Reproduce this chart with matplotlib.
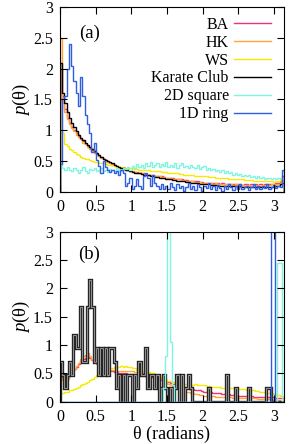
import numpy as np
import matplotlib
matplotlib.use("Agg")
import matplotlib.pyplot as plt

# --- data: histograms p(theta), 100 bins on [0, pi] ---
n_bins = 100
labels = ['BA', 'HK', 'WS', 'Karate Club', '2D square', '1D ring']
colors = ['#f0307a', '#ffa53a', '#f5ea00', '#000000', '#7ff5e0', '#2f5ee0']

# panel (a)
ba_a = [2.00, 1.55, 1.35, 1.20, 1.12, 1.05, 1.00, 0.95, 0.90, 0.86,
        0.82, 0.78, 0.74, 0.71, 0.68, 0.64, 0.61, 0.58, 0.56, 0.53,
        0.51, 0.49, 0.47, 0.45, 0.43, 0.41, 0.40, 0.38, 0.37, 0.36,
        0.35, 0.34, 0.33, 0.32, 0.32, 0.31, 0.30, 0.30, 0.29, 0.28,
        0.28, 0.27, 0.26, 0.26, 0.25, 0.25, 0.24, 0.23, 0.23, 0.22,
        0.22, 0.21, 0.21, 0.20, 0.20, 0.19, 0.19, 0.18, 0.18, 0.17,
        0.17, 0.17, 0.16, 0.16, 0.15, 0.15, 0.15, 0.14, 0.15, 0.14,
        0.14, 0.13, 0.14, 0.13, 0.13, 0.12, 0.13, 0.12, 0.13, 0.12,
        0.12, 0.11, 0.12, 0.12, 0.11, 0.12, 0.11, 0.12, 0.11, 0.12,
        0.11, 0.12, 0.12, 0.13, 0.12, 0.13, 0.14, 0.15, 0.17, 0.25]
hk_a = [2.50, 1.45, 1.30, 1.18, 1.10, 1.03, 0.98, 0.93, 0.89, 0.85,
        0.80, 0.77, 0.73, 0.70, 0.67, 0.63, 0.60, 0.58, 0.55, 0.53,
        0.50, 0.48, 0.46, 0.44, 0.43, 0.41, 0.39, 0.38, 0.37, 0.36,
        0.35, 0.34, 0.33, 0.32, 0.31, 0.31, 0.30, 0.29, 0.29, 0.28,
        0.27, 0.27, 0.26, 0.25, 0.25, 0.24, 0.24, 0.23, 0.22, 0.22,
        0.21, 0.21, 0.20, 0.20, 0.19, 0.19, 0.18, 0.18, 0.17, 0.17,
        0.16, 0.16, 0.16, 0.15, 0.15, 0.14, 0.14, 0.14, 0.13, 0.14,
        0.13, 0.13, 0.12, 0.13, 0.12, 0.12, 0.12, 0.11, 0.12, 0.11,
        0.11, 0.11, 0.10, 0.11, 0.11, 0.10, 0.11, 0.10, 0.11, 0.10,
        0.11, 0.10, 0.11, 0.11, 0.12, 0.11, 0.12, 0.13, 0.15, 0.20]
ws_a = [1.25, 0.96, 0.78, 0.74, 0.70, 0.68, 0.65, 0.62, 0.60, 0.57,
        0.55, 0.54, 0.53, 0.52, 0.50, 0.49, 0.48, 0.47, 0.46, 0.46,
        0.45, 0.44, 0.43, 0.43, 0.42, 0.41, 0.41, 0.40, 0.40, 0.39,
        0.39, 0.38, 0.38, 0.37, 0.37, 0.36, 0.36, 0.35, 0.35, 0.35,
        0.34, 0.34, 0.33, 0.33, 0.33, 0.32, 0.32, 0.32, 0.31, 0.31,
        0.30, 0.30, 0.30, 0.29, 0.29, 0.28, 0.28, 0.28, 0.27, 0.27,
        0.26, 0.26, 0.26, 0.25, 0.25, 0.25, 0.24, 0.24, 0.24, 0.23,
        0.23, 0.23, 0.22, 0.22, 0.22, 0.21, 0.21, 0.21, 0.20, 0.20,
        0.20, 0.20, 0.19, 0.19, 0.19, 0.19, 0.18, 0.18, 0.18, 0.18,
        0.17, 0.17, 0.17, 0.17, 0.17, 0.16, 0.17, 0.18, 0.20, 0.22]
karate_a = [2.10, 1.60, 1.45, 1.30, 1.20, 1.12, 1.05, 0.98, 0.93, 0.88,
            0.84, 0.80, 0.76, 0.73, 0.70, 0.66, 0.63, 0.60, 0.57, 0.54,
            0.52, 0.50, 0.48, 0.46, 0.44, 0.42, 0.41, 0.39, 0.38, 0.36,
            0.35, 0.34, 0.32, 0.31, 0.30, 0.30, 0.29, 0.28, 0.27, 0.27,
            0.26, 0.25, 0.24, 0.24, 0.23, 0.22, 0.22, 0.21, 0.20, 0.20,
            0.19, 0.19, 0.18, 0.18, 0.17, 0.17, 0.16, 0.16, 0.15, 0.15,
            0.14, 0.14, 0.13, 0.13, 0.12, 0.12, 0.12, 0.11, 0.11, 0.11,
            0.10, 0.10, 0.10, 0.10, 0.09, 0.09, 0.09, 0.09, 0.09, 0.08,
            0.09, 0.08, 0.08, 0.08, 0.08, 0.08, 0.08, 0.07, 0.08, 0.07,
            0.08, 0.07, 0.08, 0.08, 0.08, 0.09, 0.09, 0.10, 0.12, 0.15]
square_a = [0.50, 0.38, 0.35, 0.40, 0.36, 0.33, 0.38, 0.35, 0.30, 0.36,
            0.40, 0.34, 0.30, 0.37, 0.35, 0.38, 0.33, 0.36, 0.39, 0.34,
            0.36, 0.32, 0.37, 0.35, 0.33, 0.38, 0.36, 0.34, 0.39, 0.37,
            0.40, 0.36, 0.42, 0.38, 0.45, 0.41, 0.43, 0.39, 0.46, 0.42,
            0.49, 0.40, 0.44, 0.47, 0.41, 0.45, 0.42, 0.48, 0.40, 0.44,
            0.41, 0.47, 0.39, 0.43, 0.46, 0.40, 0.42, 0.38, 0.44, 0.41,
            0.39, 0.43, 0.37, 0.40, 0.42, 0.36, 0.39, 0.35, 0.37, 0.34,
            0.36, 0.32, 0.35, 0.31, 0.33, 0.30, 0.32, 0.28, 0.31, 0.27,
            0.29, 0.26, 0.28, 0.25, 0.27, 0.24, 0.26, 0.23, 0.25, 0.22,
            0.24, 0.21, 0.23, 0.22, 0.20, 0.23, 0.21, 0.22, 0.20, 0.21]
ring_a = [0.45, 1.50, 1.55, 2.00, 2.40, 2.05, 1.80, 1.60, 1.40, 1.87,
          1.55, 1.25, 1.10, 0.95, 0.65, 0.80, 0.52, 0.42, 0.30, 0.50,
          0.40, 0.35, 0.32, 0.36, 0.30, 0.33, 0.28, 0.35, 0.30, 0.10,
          0.15, 0.23, 0.05, 0.10, 0.20, 0.10, 0.05, 0.25, 0.30, 0.22,
          0.10, 0.28, 0.15, 0.10, 0.05, 0.12, 0.05, 0.10, 0.04, 0.15,
          0.08, 0.03, 0.12, 0.06, 0.10, 0.02, 0.08, 0.14, 0.05, 0.10,
          0.03, 0.12, 0.07, 0.02, 0.10, 0.06, 0.15, 0.04, 0.09, 0.03,
          0.11, 0.06, 0.02, 0.10, 0.05, 0.13, 0.07, 0.03, 0.09, 0.05,
          0.12, 0.04, 0.08, 0.10, 0.03, 0.07, 0.12, 0.05, 0.09, 0.04,
          0.10, 0.06, 0.13, 0.05, 0.08, 0.11, 0.06, 0.09, 0.07, 0.35]

# panel (b)
ba_b = [0.50, 0.48, 0.45, 0.47, 0.50, 0.53, 0.58, 0.62, 0.66, 0.72,
        0.75, 0.78, 0.80, 0.78, 0.74, 0.70, 0.68, 0.65, 0.62, 0.60,
        0.58, 0.56, 0.55, 0.54, 0.53, 0.52, 0.51, 0.50, 0.50, 0.50,
        0.49, 0.49, 0.48, 0.48, 0.47, 0.47, 0.46, 0.46, 0.45, 0.45,
        0.44, 0.43, 0.42, 0.41, 0.40, 0.39, 0.38, 0.37, 0.35, 0.33,
        0.32, 0.30, 0.29, 0.28, 0.27, 0.26, 0.25, 0.24, 0.23, 0.22,
        0.21, 0.20, 0.20, 0.19, 0.18, 0.18, 0.17, 0.17, 0.16, 0.16,
        0.15, 0.15, 0.14, 0.14, 0.13, 0.13, 0.12, 0.12, 0.12, 0.11,
        0.11, 0.11, 0.10, 0.10, 0.10, 0.10, 0.09, 0.09, 0.09, 0.09,
        0.08, 0.08, 0.08, 0.08, 0.08, 0.08, 0.07, 0.07, 0.07, 0.07]
hk_b = [0.45, 0.38, 0.32, 0.40, 0.47, 0.52, 0.58, 0.63, 0.68, 0.75,
        0.80, 0.83, 0.86, 0.80, 0.74, 0.70, 0.66, 0.64, 0.62, 0.60,
        0.59, 0.58, 0.57, 0.56, 0.56, 0.55, 0.55, 0.55, 0.54, 0.55,
        0.54, 0.55, 0.54, 0.53, 0.52, 0.52, 0.51, 0.50, 0.50, 0.49,
        0.48, 0.47, 0.46, 0.45, 0.43, 0.41, 0.38, 0.35, 0.32, 0.30,
        0.28, 0.26, 0.24, 0.22, 0.21, 0.20, 0.18, 0.17, 0.16, 0.15,
        0.14, 0.13, 0.12, 0.12, 0.11, 0.11, 0.10, 0.10, 0.10, 0.09,
        0.09, 0.09, 0.09, 0.08, 0.08, 0.08, 0.08, 0.07, 0.07, 0.07,
        0.07, 0.07, 0.06, 0.06, 0.06, 0.06, 0.06, 0.06, 0.05, 0.05,
        0.05, 0.05, 0.05, 0.05, 0.05, 0.04, 0.05, 0.04, 0.00, 0.00]
ws_b = [0.15, 0.16, 0.17, 0.18, 0.20, 0.21, 0.23, 0.25, 0.27, 0.29,
        0.31, 0.33, 0.35, 0.38, 0.41, 0.44, 0.47, 0.50, 0.52, 0.55,
        0.56, 0.58, 0.59, 0.60, 0.61, 0.62, 0.62, 0.63, 0.62, 0.63,
        0.62, 0.61, 0.60, 0.59, 0.57, 0.56, 0.55, 0.54, 0.53, 0.52,
        0.51, 0.50, 0.48, 0.46, 0.44, 0.42, 0.40, 0.38, 0.37, 0.36,
        0.35, 0.34, 0.33, 0.32, 0.32, 0.31, 0.31, 0.30, 0.30, 0.30,
        0.31, 0.30, 0.30, 0.29, 0.29, 0.28, 0.28, 0.27, 0.27, 0.27,
        0.26, 0.26, 0.25, 0.25, 0.25, 0.24, 0.24, 0.24, 0.23, 0.23,
        0.23, 0.22, 0.22, 0.21, 0.21, 0.20, 0.20, 0.19, 0.19, 0.18,
        0.18, 0.17, 0.16, 0.16, 0.15, 0.14, 0.13, 0.12, 0.11, 0.10]
karate_b = [0.71, 0.48, 0.24, 0.48, 0.71, 0.48, 1.18, 0.95, 0.95, 1.68,
            0.71, 0.71, 1.68, 2.15, 1.68, 0.71, 0.95, 0.48, 0.95, 0.48,
            0.95, 0.48, 0.95, 0.95, 0.71, 0.24, 0.48, 0.00, 0.48, 0.00,
            0.48, 0.48, 0.00, 0.48, 0.24, 0.71, 0.48, 0.48, 0.95, 0.24,
            0.48, 0.48, 0.24, 0.48, 0.00, 0.24, 0.48, 0.24, 0.00, 0.24,
            0.00, 0.24, 0.48, 0.00, 0.48, 0.00, 0.24, 0.48, 0.24, 0.00,
            0.00, 0.00, 0.00, 0.00, 0.00, 0.00, 0.24, 0.00, 0.00, 0.00,
            0.00, 0.00, 0.00, 0.00, 0.48, 0.00, 0.00, 0.00, 0.24, 0.00,
            0.00, 0.00, 0.00, 0.00, 0.24, 0.00, 0.00, 0.00, 0.00, 0.00,
            0.00, 0.00, 0.24, 0.24, 0.00, 0.00, 0.00, 0.00, 0.00, 0.00]
square_b = [0.0] * 46 + [0.25, 0.80, 8.00, 1.05, 0.30] + [0.0] * 46 + [2.45, 2.45, 0.0]
ring_b = [0.0] * 94 + [20.0, 20.0] + [0.0] * 4

edges = np.linspace(0, np.pi, n_bins + 1)

plt.rcParams['font.family'] = ['Liberation Serif', 'DejaVu Serif']
plt.rcParams['mathtext.fontset'] = 'custom'
plt.rcParams['mathtext.it'] = 'Liberation Serif:italic'
plt.rcParams['mathtext.rm'] = 'Liberation Serif'
plt.rcParams['font.size'] = 11.5

fig = plt.figure(figsize=(2.91, 4.44), dpi=100)
ax1 = fig.add_axes([0.206, 0.568, 0.770, 0.416])
ax2 = fig.add_axes([0.206, 0.095, 0.770, 0.383])

panel_a = [ba_a, hk_a, ws_a, karate_a, square_a, ring_a]
panel_b = [ba_b, hk_b, ws_b, karate_b, square_b, ring_b]

for vals, c, lab in zip(panel_a, colors, labels):
    ax1.stairs(vals, edges, color=c, lw=1.0, label=lab)
for vals, c in zip(panel_b, colors):
    if c == '#000000':
        # dark outline with a lighter core, as in the original
        ax2.stairs(vals, edges, color='#202020', lw=2.4)
        ax2.stairs(vals, edges, color='#909090', lw=0.8)
    else:
        ax2.stairs(vals, edges, color=c, lw=1.0)

for ax in (ax1, ax2):
    ax.set_xlim(0, np.pi)
    ax.set_ylim(0, 3)
    ax.set_xticks([0, 0.5, 1, 1.5, 2, 2.5, 3])
    ax.set_xticklabels(['0', '0.5', '1', '1.5', '2', '2.5', '3'])
    ax.set_yticks([0, 0.5, 1, 1.5, 2, 2.5, 3])
    ax.set_yticklabels(['0', '0.5', '1', '1.5', '2', '2.5', '3'])
    ax.tick_params(direction='in', length=5, top=True, right=True, pad=5)
    ax.set_ylabel(r'$p(\mathrm{\theta})$', fontsize=13.5, labelpad=1)

ax1.text(0.41, 2.58, '(a)', ha='center', va='center', fontsize=13.5)
ax2.text(0.41, 2.6, '(b)', ha='center', va='center', fontsize=13.5)
ax2.set_xlabel('θ (radians)', fontsize=13, labelpad=1)

ax1.legend(loc='upper right', frameon=False, markerfirst=False,
           handlelength=2.3, handletextpad=0.35, labelspacing=0.12,
           borderaxespad=0.2, bbox_to_anchor=(0.985, 1.0))

fig.savefig('out.png', dpi=100)
